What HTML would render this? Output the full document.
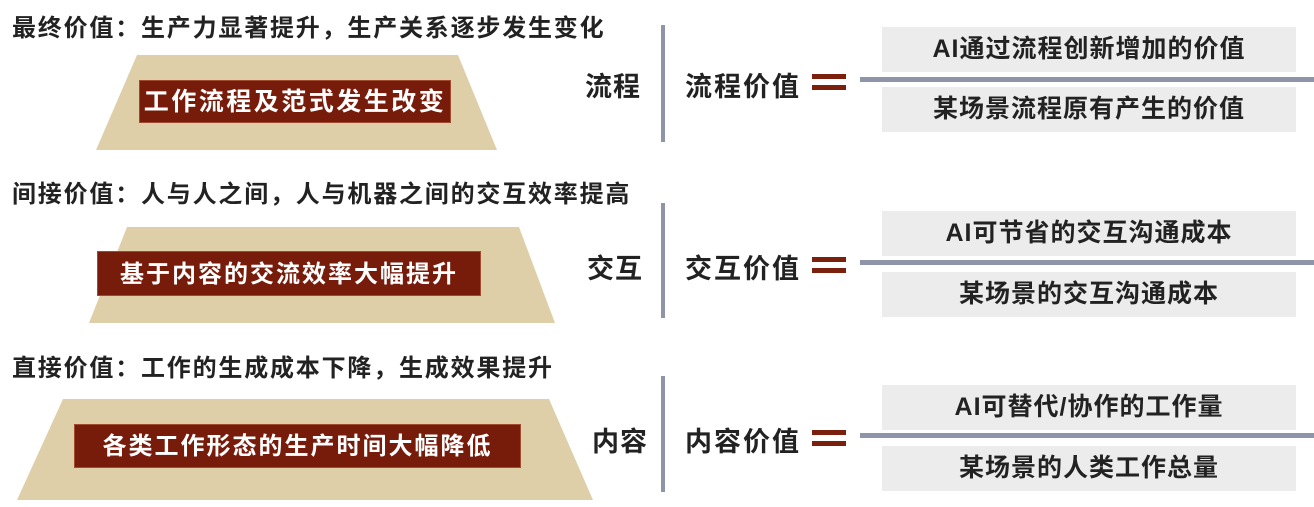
<!DOCTYPE html>
<html><head><meta charset="utf-8"><style>
body{margin:0;width:1314px;height:507px;background:#fff;position:relative;overflow:hidden;font-family:"Liberation Sans","Noto Sans CJK SC",sans-serif;font-weight:bold;color:#222}
.a{position:absolute;white-space:nowrap}
.t{font-size:24px;left:12px;letter-spacing:1.8px}
.d{background:#771c0b;color:#fff;font-size:24px;letter-spacing:2px;text-align:center;position:absolute;border:1px solid #a04a30;box-sizing:border-box;white-space:nowrap}
.l{font-size:27px;letter-spacing:1px}
.v{position:absolute;left:661px;width:4px;background:#8f95a8}
.eq{position:absolute;left:812px;width:34px;height:5px;background:#7a200c}
.h{position:absolute;left:860px;width:454px;height:5px;background:#8f95a8}
.g{position:absolute;left:882px;width:414px;height:45px;background:#ececec;font-size:25px;letter-spacing:1px;text-align:center;line-height:45px;white-space:nowrap}
</style></head><body>
<svg width="1314" height="507" style="position:absolute;left:0;top:0">
<polygon points="137,55 458,55 497,150 96,150" fill="#dfcfa8"/>
<polygon points="127,227 519,227 555,323 89,323" fill="#dfcfa8"/>
<polygon points="63,399 549,399 593,500 17,500" fill="#dfcfa8"/>
</svg>
<div class="a t" style="top:8px">最终价值：生产力显著提升，生产关系逐步发生变化</div>
<div class="a t" style="top:174px">间接价值：人与人之间，人与机器之间的交互效率提高</div>
<div class="a t" style="top:348px">直接价值：工作的生成成本下降，生成效果提升</div>
<div class="d" style="left:139px;top:80px;width:312px;height:43px;line-height:43px;font-size:25px;letter-spacing:2.5px">工作流程及范式发生改变</div>
<div class="d" style="left:97px;top:251px;width:384px;height:45px;line-height:45px">基于内容的交流效率大幅提升</div>
<div class="d" style="left:74px;top:424px;width:447px;height:44px;line-height:44px">各类工作形态的生产时间大幅降低</div>
<div class="a l" style="left:585px;top:65px">流程</div>
<div class="a l" style="left:587px;top:247px">交互</div>
<div class="a l" style="left:592px;top:420px">内容</div>
<div class="v" style="top:25px;height:117px"></div>
<div class="v" style="top:203px;height:115px"></div>
<div class="v" style="top:376px;height:116px"></div>
<div class="a l" style="left:685px;top:65px;letter-spacing:2px">流程价值</div>
<div class="a l" style="left:685px;top:247px;letter-spacing:2px">交互价值</div>
<div class="a l" style="left:685px;top:420px;letter-spacing:2px">内容价值</div>
<div class="eq" style="top:74px"></div><div class="eq" style="top:85px"></div>
<div class="eq" style="top:257px"></div><div class="eq" style="top:268px"></div>
<div class="eq" style="top:430px"></div><div class="eq" style="top:441px"></div>
<div class="h" style="top:77px"></div>
<div class="h" style="top:260px"></div>
<div class="h" style="top:433px"></div>
<div class="g" style="top:27px">AI通过流程创新增加的价值</div>
<div class="g" style="top:87px">某场景流程原有产生的价值</div>
<div class="g" style="top:211px">AI可节省的交互沟通成本</div>
<div class="g" style="top:272px">某场景的交互沟通成本</div>
<div class="g" style="top:385px">AI可替代/协作的工作量</div>
<div class="g" style="top:446px">某场景的人类工作总量</div>
</body></html>
